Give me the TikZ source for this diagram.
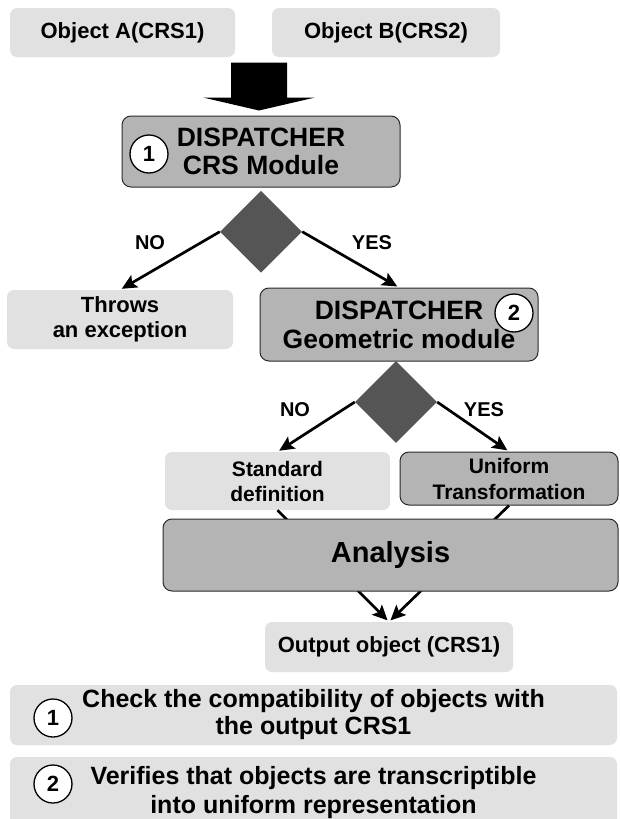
\documentclass[tikz,border=0pt]{standalone}
\usepackage{fontspec}
\setmainfont{Liberation Sans}
\usetikzlibrary{shapes.geometric,arrows.meta,positioning}
\definecolor{boxlight}{HTML}{E1E1E1}
\definecolor{boxdark}{HTML}{B4B4B4}
\definecolor{boxedge}{HTML}{2B2B2B}
\definecolor{decgray}{HTML}{555555}
\newcommand{\fsz}[2]{\fontsize{#1pt}{#2pt}\selectfont\bfseries}
\tikzset{
	lightbox/.style={fill=boxlight, rounded corners=7pt, align=center, inner sep=0pt},
	darkbox/.style={fill=boxdark, draw=boxedge, line width=1pt, rounded corners=9pt, align=center, inner sep=0pt},
	decision/.style={diamond, fill=decgray, inner sep=0pt, minimum width=82pt, minimum height=82pt},
	numcircle/.style={circle, draw=black, fill=white, line width=1.3pt, minimum size=38pt, inner sep=0pt, font=\fsz{22}{22}},
	flow/.style={-{Stealth[length=15pt,width=14pt,inset=3pt]}, line width=2.7pt, shorten >=2pt},
	lbl/.style={font=\fsz{20}{20}}
}
\begin{document}
\begin{tikzpicture}[x=1pt, y=-1pt]
	\useasboundingbox (0,0) rectangle (619,819);
	\node[lightbox, minimum width=225pt, minimum height=49pt, font=\fsz{22}{24}] (objA) at (122.5,32.5) {Object A(CRS1)};
	\node[lightbox, minimum width=228pt, minimum height=49pt, font=\fsz{22}{24}] (objB) at (386,32.5) {Object B(CRS2)};
	\node[darkbox, minimum width=278pt, minimum height=71pt, font=\fsz{26.5}{28}] (disp1) at (261,151.5) {DISPATCHER\\CRS Module};
	\node[numcircle] (n1) at (149,154) {1};
	\fill ([shift={(-2,-5)}]disp1.north) -- ++(-56,-13) -- ++(28,0) -- ++(0,-35) -- ++(56,0) -- ++(0,35) -- ++(28,0) -- cycle;
	\node[decision, below=3pt of disp1] (dec1) {};
	\node[lightbox, minimum width=226pt, minimum height=59pt, font=\fsz{22}{25}] (throws) at (120,319.5) {Throws\\an exception};
	\node[darkbox, minimum width=278pt, minimum height=73pt, font=\fsz{26.5}{29}] (disp2) at (399,324.5) {DISPATCHER\\Geometric module};
	\node[numcircle] (n2) at (514,313) {2};
	\draw[flow] (dec1.west) -- (throws.north);
	\draw[flow] (dec1.east) -- (disp2.north);
	\node[lbl] (no1) at (150,243) {NO};
	\node[lbl] (yes1) at (372,243) {YES};
	\node[decision] (dec2) at (396,402) {};
	\node[lightbox, minimum width=225pt, minimum height=58pt, font=\fsz{21}{25}] (stddef) at (277.5,481) {Standard\\definition};
	\node[darkbox, minimum width=218pt, minimum height=53pt, font=\fsz{21}{26}] (uniform) at (509,478.5) {Uniform\\Transformation};
	\draw[flow] (dec2.west) -- (stddef.north);
	\draw[flow] (dec2.east) -- (uniform.north);
	\node[lbl] (no2) at (295,410) {NO};
	\node[lbl] (yes2) at (484,410) {YES};
	\node[lightbox, minimum width=248pt, minimum height=50pt, font=\fsz{22}{24}] (output) at (389,647) {Output object (CRS1)};
	\draw[flow] (stddef.south) -- (output.north);
	\draw[flow] (uniform.south) -- (output.north);
	\node[darkbox, minimum width=455pt, minimum height=72pt, font=\fsz{29}{30}] (analysis) at (390.5,555) {Analysis};
	\node[lightbox, minimum width=607pt, minimum height=60pt, font=\fsz{25}{27}] (note1) at (313.5,715) {Check the compatibility of objects with\\the output CRS1};
	\node[numcircle] (m1) at (53,718) {1};
	\node[lightbox, minimum width=607pt, minimum height=72pt, font=\fsz{25}{29}] (note2) at (313.5,793) {Verifies that objects are transcriptible\\into uniform representation};
	\node[numcircle] (m2) at (53,784) {2};
\end{tikzpicture}
\end{document}
